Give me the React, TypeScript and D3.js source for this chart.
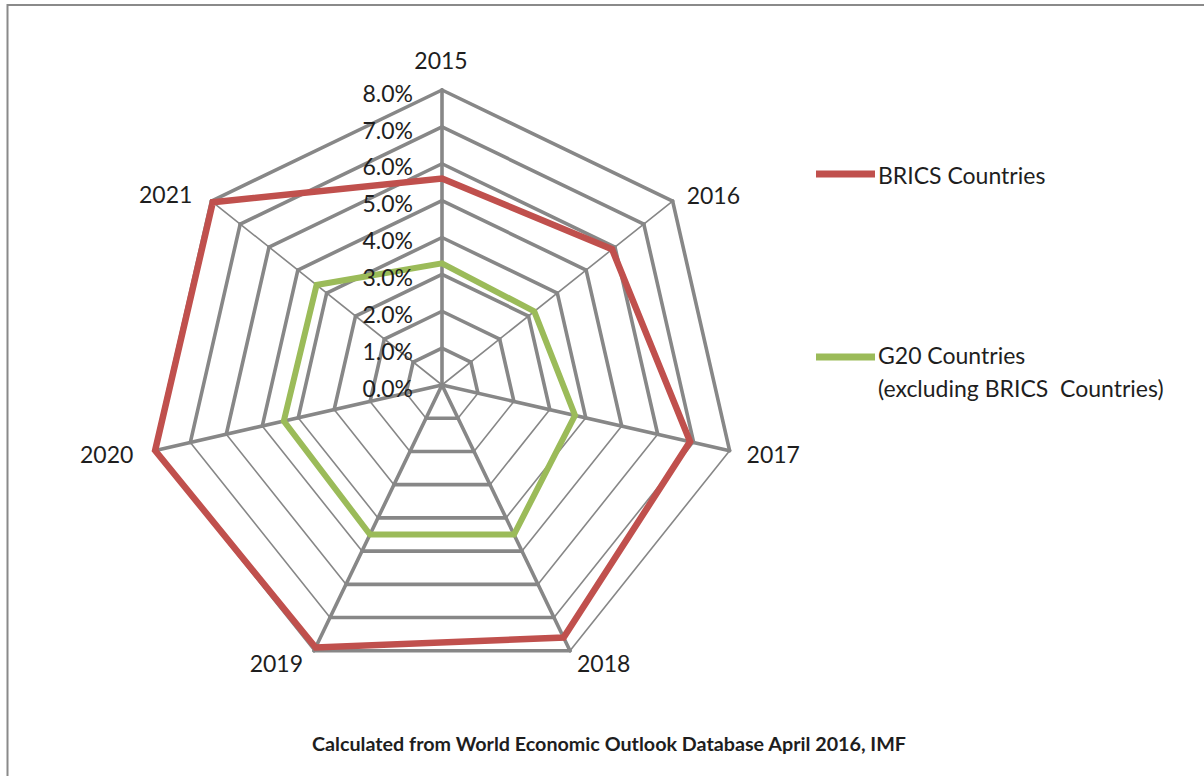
import React from 'react';
import * as d3 from 'd3';

const years = ['2015', '2016', '2017', '2018', '2019', '2020', '2021'];
const bricsValues = [5.6, 5.9, 6.9, 7.6, 7.9, 7.98, 7.95];
const g20Values = [3.3, 3.2, 3.7, 4.5, 4.5, 4.4, 4.35];
const tickValues = [0, 1, 2, 3, 4, 5, 6, 7, 8];
const bricsName = 'BRICS Countries';
const g20NameLines = ['G20 Countries', '(excluding BRICS\u00a0 Countries)'];
const caption = 'Calculated from World Economic Outlook Database April 2016, IMF';

// layout
const W = 1204;
const H = 776;
const cx = 442;
const cy = 385;
const R = 295;
const labelOffsets: [number, number, string][] = [
  [-1, -21, 'middle'],
  [14, 3, 'start'],
  [17, 12, 'start'],
  [7, 21, 'start'],
  [-11, 21, 'end'],
  [-21, 12, 'end'],
  [-19, 2, 'end'],
];

const GRID = '#878787';
const RED = '#C0504D';
const GREEN = '#9BBB59';
const TEXT = '#1e1e1e';
const FONT = 'Lato, "Open Sans", sans-serif';
const FS = 23;

export default function App() {
  const r = d3.scaleLinear().domain([0, 8]).range([0, R]);
  const angle = d3
    .scaleLinear()
    .domain([0, years.length])
    .range([0, 2 * Math.PI]);

  const pt = (i: number, v: number): [number, number] => {
    const a = angle(i);
    return [cx + r(v) * Math.sin(a), cy - r(v) * Math.cos(a)];
  };

  const widthFor = (x1: number, y1: number, x2: number, y2: number) => {
    const deg = (Math.atan2(Math.abs(y2 - y1), Math.abs(x2 - x1)) * 180) / Math.PI;
    return deg > 30 && deg < 56 ? 1.6 : 3.6;
  };

  const segments: { x1: number; y1: number; x2: number; y2: number; w: number }[] = [];
  tickValues.slice(1).forEach((t) => {
    years.forEach((_, i) => {
      const [x1, y1] = pt(i, t);
      const [x2, y2] = pt((i + 1) % years.length, t);
      segments.push({ x1, y1, x2, y2, w: widthFor(x1, y1, x2, y2) });
    });
  });
  years.forEach((_, i) => {
    const [x2, y2] = pt(i, 8);
    segments.push({ x1: cx, y1: cy, x2, y2, w: widthFor(cx, cy, x2, y2) });
  });

  const radial = d3
    .lineRadial<number>()
    .angle((_, i) => angle(i))
    .radius((d) => r(d))
    .curve(d3.curveLinearClosed);

  return (
    <svg
      width={W}
      height={H}
      style={{ position: 'absolute', left: 0, top: 0, background: '#fff' }}
      fontFamily={FONT}
    >
      <rect x={0} y={0} width={W} height={H} fill="#ffffff" />
      <rect x={7.5} y={5} width={1300} height={800} fill="none" stroke="#8a8a8a" strokeWidth={2} />

      <g>
        {segments.map((s, k) => (
          <line
            key={k}
            x1={s.x1}
            y1={s.y1}
            x2={s.x2}
            y2={s.y2}
            stroke={GRID}
            strokeWidth={s.w}
            strokeLinecap="round"
          />
        ))}
      </g>

      <g transform={`translate(${cx},${cy})`}>
        <path d={radial(g20Values) || ''} fill="none" stroke={GREEN} strokeWidth={6} strokeLinejoin="miter" />
        <path d={radial(bricsValues) || ''} fill="none" stroke={RED} strokeWidth={6.5} strokeLinejoin="miter" />
      </g>

      <g fontSize={FS} fill={TEXT}>
        {tickValues.map((t) => (
          <text key={t} x={413} y={cy - r(t) + 11.7} textAnchor="end">
            {d3.format('.1f')(t) + '%'}
          </text>
        ))}
      </g>

      <g fontSize={FS} fill={TEXT}>
        {years.map((y, i) => {
          const [vx, vy] = pt(i, 8);
          const [dx, dy, anchor] = labelOffsets[i];
          return (
            <text key={y} x={vx + dx} y={vy + dy} textAnchor={anchor as any}>
              {y}
            </text>
          );
        })}
      </g>

      <g fontSize={FS} fill={TEXT}>
        <line x1={816} y1={174} x2={875} y2={174} stroke={RED} strokeWidth={7} />
        <text x={878} y={184}>{bricsName}</text>
        <line x1={816} y1={357} x2={875} y2={357} stroke={GREEN} strokeWidth={7} />
        {g20NameLines.map((l, i) => (
          <text key={i} x={878} y={364 + i * 33}>
            {l}
          </text>
        ))}
      </g>

      <text
        x={609}
        y={751}
        textAnchor="middle"
        fontSize={18.5}
        fontWeight="bold"
        fill={TEXT}
        textLength={594}
        lengthAdjust="spacingAndGlyphs"
      >
        {caption}
      </text>
    </svg>
  );
}
